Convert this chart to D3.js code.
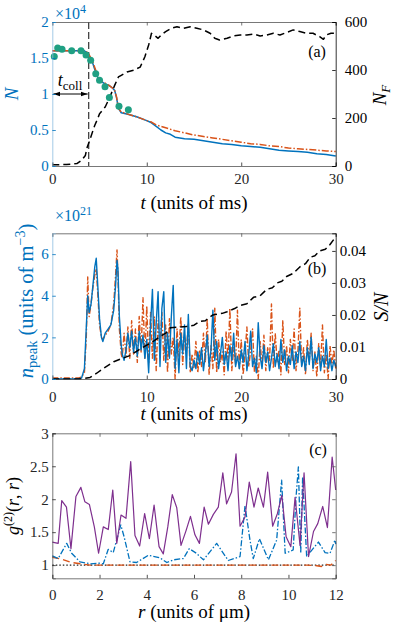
<!DOCTYPE html>
<html>
<head>
<meta charset="utf-8">
<script src="https://cdn.jsdelivr.net/npm/d3@7"></script>
<style>
body { margin: 0; background: #fff; }
</style>
</head>
<body>
<svg width="395" height="624"></svg>
<script>
// ---- panel (a): atom number N (x1e4) and N_F
var tN = [0, 3.4, 3.8, 4.0, 4.3, 4.6, 4.9, 5.2, 5.6, 6.0, 6.4, 6.6, 6.8, 7.0, 7.3, 8, 9, 10, 10.5, 11, 11.5, 12, 12.5, 13, 14, 15, 16, 17, 18, 19, 20, 21, 22, 23, 24, 25, 26, 27, 28, 29, 30];
var nBlue = [1.6, 1.6, 1.56, 1.5, 1.42, 1.3, 1.2, 1.17, 1.14, 1.12, 1.08, 1.05, 0.95, 0.8, 0.74, 0.72, 0.68, 0.63, 0.6, 0.55, 0.5, 0.46, 0.44, 0.4, 0.38, 0.37, 0.35, 0.33, 0.31, 0.3, 0.28, 0.27, 0.26, 0.24, 0.22, 0.21, 0.2, 0.19, 0.17, 0.16, 0.14];
var nOrange = [1.6, 1.6, 1.57, 1.52, 1.44, 1.33, 1.22, 1.18, 1.15, 1.12, 1.08, 1.05, 0.96, 0.8, 0.75, 0.72, 0.68, 0.63, 0.61, 0.57, 0.55, 0.53, 0.51, 0.49, 0.46, 0.43, 0.41, 0.39, 0.37, 0.35, 0.33, 0.31, 0.3, 0.28, 0.27, 0.25, 0.24, 0.23, 0.22, 0.21, 0.2];
var tDots = [0.21, 0.57, 1.03, 2.05, 3.04, 3.57, 4.06, 4.6, 5.0, 5.58, 6.04, 7.06, 8.05];
var nDots = [1.52, 1.64, 1.62, 1.6, 1.6, 1.54, 1.47, 1.28, 1.19, 1.1, 0.95, 0.83, 0.78];
var tF = [0, 1.5, 2.6, 3.1, 3.5, 3.7, 3.9, 4.2, 4.5, 4.8, 5.0, 5.6, 6.1, 6.6, 7.0, 7.3, 7.9, 8.6, 9.3, 9.8, 10.2, 10.5, 10.8, 11.2, 11.5, 12.0, 12.6, 13.2, 13.9, 14.6, 15.3, 16.0, 16.7, 17.2, 17.7, 18.5, 19.2, 19.9, 20.6, 21.3, 22.0, 22.7, 23.4, 24.1, 24.8, 25.5, 26.2, 26.9, 27.6, 28.3, 28.7, 29.0, 29.5, 30];
var nF = [5, 6, 10, 24, 44, 79, 100, 135, 170, 197, 218, 246, 288, 336, 371, 378, 392, 399, 412, 455, 504, 553, 545, 532, 545, 560, 574, 580, 574, 580, 574, 567, 553, 532, 525, 532, 542, 546, 546, 550, 542, 546, 553, 546, 556, 567, 560, 553, 553, 539, 528, 546, 553, 553];
var tColl = 3.85;

// ---- panel (b): peak density (x1e21) and S/N
var tPeakEarly = [0, 2.8, 3.1, 3.4, 3.6, 3.75, 3.9, 4.1, 4.3, 4.5, 4.65, 4.8, 5.0, 5.2, 5.35, 5.6, 5.9, 6.2, 6.5, 6.7, 6.85, 6.95, 7.1, 7.3];
var peakBlueEarly = [0, 0, 0.05, 0.5, 2.5, 4.0, 3.2, 3.6, 4.5, 5.4, 5.8, 4.6, 2.9, 2.0, 1.8, 2.2, 2.4, 2.6, 3.3, 4.5, 5.7, 5.3, 3.0, 1.6];
var peakOrangeEarly = [0.05, 0.05, 0.1, 0.3, 2.0, 4.9, 3.0, 3.6, 4.4, 5.0, 5.3, 4.2, 2.6, 2.0, 1.9, 2.1, 2.3, 2.6, 3.6, 5.0, 6.2, 5.0, 2.4, 1.2];
// from t = 7.4 to 30 every 0.2 ms
var peakBlueLate = [1.2, 0.9, 1.4, 2.2, 1.5, 2.3, 1.3, 2.0, 1.1, 2.3, 1.4, 2.1, 1.0, 1.9, 0.3, 2.6, 4.3, 0.9, 2.7, 4.2,
  0.6, 3.4, 4.2, 0.8, 2.2, 1.0, 3.0, 4.5, 0.5, 1.9, 0.3, 2.2, 1.2, 2.6, 0.5, 3.1, 0.6, 0.4, 0.9, 0.5,
  1.3, 0.7, 1.5, 0.4, 1.2, 2.1, 0.6, 1.4, 3.3, 0.9, 1.8, 0.5, 1.2, 2.0, 0.7, 1.3, 0.4, 1.6, 0.9, 2.2,
  0.6, 1.1, 0.5, 1.4, 0.8, 1.8, 0.4, 1.2, 2.3, 0.6, 1.0, 0.3, 2.7, 1.1, 0.5, 1.6, 0.8, 1.3, 0.4, 1.0,
  1.7, 0.6, 1.2, 0.5, 1.9, 0.8, 1.4, 0.4, 1.1, 0.7, 1.6, 0.5, 1.3, 0.8, 1.8, 0.6, 1.1, 0.4, 1.5, 0.7,
  2.0, 0.5, 1.2, 0.8, 1.5, 0.4, 1.1, 0.6, 1.9, 0.5, 1.0, 0.4, 0.9, 0.6];
var peakOrangeLate = [1.0, 2.2, 1.1, 2.5, 1.0, 2.8, 1.2, 2.4, 0.8, 3.0, 1.3, 3.9, 1.0, 3.5, 0.8, 3.2, 1.0, 3.0, 0.4, 2.8,
  1.5, 3.2, 0.9, 2.6, 0.3, 2.9, 1.2, 2.0, 0.0, 2.4, 1.1, 3.0, 0.7, 2.0, 1.4, 2.7, 0.3, 1.2, 0.5, 1.8,
  0.3, 1.4, 0.6, 2.2, 0.8, 2.9, 0.2, 1.6, 0.5, 3.4, 0.3, 1.9, 0.8, 1.3, 0.2, 2.3, 0.9, 3.4, 0.4, 1.5,
  0.7, 3.3, 0.5, 1.9, 0.2, 1.2, 2.5, 0.6, 1.4, 2.4, 0.3, 1.1, 0.0, 1.8, 0.6, 2.1, 0.4, 1.5, 0.9, 3.6,
  0.5, 2.2, 0.8, 1.4, 0.2, 2.8, 0.7, 1.6, 0.3, 1.9, 0.9, 2.4, 0.4, 1.3, 3.4, 0.6, 1.5, 0.2, 1.9, 0.8,
  2.2, 0.4, 1.3, 0.1, 1.7, 0.6, 2.6, 0.3, 1.2, 0.0, 1.6, 0.7, 1.4, 0.5];
var tSN = [0, 3, 4, 4.7, 5.5, 6.5, 7.2, 8.2, 9, 10, 10.8, 11.4, 12.1, 12.5, 13.5, 14.2, 15, 15.6, 16.2, 16.5, 17, 18, 18.5, 19.3, 19.9, 20.6, 21.3, 22, 22.7, 23.3, 23.8, 24.3, 24.8, 25.5, 26.2, 26.8, 27.3, 27.8, 28.3, 28.9, 29.4, 29.9];
var sN = [0, 0, 0.0005, 0.0018, 0.0035, 0.0054, 0.0062, 0.0073, 0.0088, 0.0106, 0.012, 0.0132, 0.0145, 0.016, 0.0162, 0.0164, 0.0168, 0.018, 0.0182, 0.019, 0.02, 0.0205, 0.021, 0.022, 0.023, 0.0235, 0.0255, 0.026, 0.028, 0.0285, 0.03, 0.0305, 0.032, 0.033, 0.035, 0.036, 0.038, 0.0385, 0.04, 0.0405, 0.042, 0.044];

// ---- panel (c): g2(r,r)
var rPurple = [0, 0.25, 0.4, 0.6, 0.79, 1.0, 1.21, 1.38, 1.57, 1.78, 1.96, 2.16, 2.37, 2.56, 2.73, 2.91, 3.12, 3.32, 3.5, 3.7, 3.91, 4.11, 4.31, 4.52, 4.7, 4.89, 5.08, 5.27, 5.45, 5.66, 5.85, 6.04, 6.23, 6.43, 6.61, 6.82, 7.03, 7.22, 7.38, 7.59, 7.78, 7.95, 8.16, 8.34, 8.54, 8.72, 8.94, 9.12, 9.33, 9.53, 9.72, 9.9, 10.1, 10.28, 10.49, 10.66, 10.85, 11.06, 11.24, 11.45, 11.65, 11.85, 12];
var gPurple = [1.35, 1.33, 1.98, 1.88, 1.25, 2.04, 2.18, 1.96, 1.92, 1.58, 1.18, 1.58, 1.54, 2.14, 1.33, 1.76, 1.71, 2.57, 1.45, 1.29, 1.78, 1.40, 1.91, 1.28, 1.17, 1.58, 2.07, 1.87, 1.30, 1.52, 1.74, 1.46, 1.33, 1.88, 1.62, 1.77, 1.88, 2.40, 1.93, 2.11, 2.69, 1.59, 1.73, 2.26, 1.88, 2.17, 1.88, 2.41, 1.59, 1.78, 2.06, 1.43, 1.28, 2.03, 1.30, 2.40, 1.13, 1.51, 1.63, 1.89, 1.57, 2.64, 2.14];
var rBlue = [0, 0.25, 0.61, 0.82, 1.17, 1.6, 2.02, 2.16, 2.37, 2.58, 2.9, 3.04, 3.29, 3.57, 4.07, 4.56, 4.85, 5.13, 5.55, 5.8, 6.1, 6.4, 6.96, 7.45, 7.95, 8.16, 8.37, 8.51, 8.77, 9.15, 9.5, 9.71, 9.86, 10.2, 10.32, 10.42, 10.52, 10.6, 10.77, 11.27, 11.55, 11.76, 11.97, 12];
var gBlue = [1.14, 1.10, 1.33, 1.18, 1.05, 1.02, 1.03, 1.02, 1.24, 1.19, 1.61, 1.43, 1.05, 1.04, 1.15, 1.11, 1.04, 1.08, 1.10, 1.25, 1.18, 1.08, 1.33, 1.07, 1.13, 1.9, 1.38, 1.10, 1.40, 1.08, 1.38, 2.29, 1.18, 1.23, 2.03, 2.49, 1.18, 2.34, 1.13, 1.35, 1.19, 1.18, 1.38, 1.32];
var rOrange = [0, 0.4, 0.8, 1.2, 1.6, 2.0, 3, 4, 5, 6, 7, 8, 9, 10, 10.8, 11.2, 11.4, 11.6, 11.8, 12];
var gOrange = [1.12, 1.09, 1.04, 1.02, 1.0, 1.0, 1.0, 1.0, 1.0, 1.0, 1.0, 1.0, 1.0, 1.0, 1.0, 0.99, 0.98, 1.01, 1.0, 1.07];

var blue = "#0072BD", orange = "#D95319", purple = "#7E2F8E", teal = "#1FA083", boxc = "#555";
var FONT = "Liberation Serif";

var svg = d3.select("svg");
var L = 52.3, R = 335.7;

function zip(xs, ys) { return xs.map(function(d, i) { return [d, ys[i]]; }); }

function drawLine(g, pts, x, y, color, dash, w) {
  g.append("path")
    .attr("d", d3.line().x(function(d) { return x(d[0]); }).y(function(d) { return y(d[1]); })(pts))
    .attr("fill", "none")
    .attr("stroke", color)
    .attr("stroke-width", w || 1.4)
    .attr("stroke-dasharray", dash || null)
    .attr("stroke-linejoin", "round");
}

function styleAxis(sel, color) {
  sel.select(".domain").attr("stroke", color).attr("stroke-width", 0.8);
  sel.selectAll(".tick line").attr("stroke", color).attr("stroke-width", 0.8);
  sel.selectAll(".tick text").attr("fill", color).attr("font-family", FONT).attr("font-size", 15);
}

function xAxes(top, bottom, x, ticks, pad) {
  var ax = svg.append("g").attr("transform", "translate(0," + bottom + ")")
    .call(d3.axisBottom(x).tickValues(ticks).tickSize(-3.5).tickPadding(pad).tickFormat(d3.format("")));
  styleAxis(ax, "#262626");
  ax.select(".domain").attr("stroke", boxc);
  var tp = svg.append("g").attr("transform", "translate(0," + top + ")")
    .call(d3.axisTop(x).tickValues(ticks).tickSize(-3.5).tickFormat(""));
  styleAxis(tp, boxc);
}

function label(x, y, size, rot, color) {
  return svg.append("text")
    .attr("transform", "translate(" + x + "," + y + ")" + (rot ? " rotate(-90)" : ""))
    .attr("text-anchor", "middle").attr("font-family", FONT).attr("font-size", size)
    .attr("fill", color || "#000");
}
// piece of a rich label, carrying its own font settings
function part(t, str, size, italic, dy) {
  return t.append("tspan").attr("font-family", FONT)
    .attr("font-size", size).attr("font-style", italic ? "italic" : "normal")
    .attr("dy", dy || null).text(str);
}

// ================= panel (a)
var xa = d3.scaleLinear().domain([0, 30]).range([L, R]);
var ya = d3.scaleLinear().domain([0, 2]).range([166, 22]);
var yaR = d3.scaleLinear().domain([0, 600]).range([166, 22]);
var ga = svg.append("g");

// t_coll marker
ga.append("line").attr("x1", xa(tColl)).attr("x2", xa(tColl)).attr("y1", ya(2)).attr("y2", ya(0))
  .attr("stroke", "#444").attr("stroke-width", 1.3).attr("stroke-dasharray", "7,3");

drawLine(ga, zip(tF, nF), xa, yaR, "#000", "7,4", 1.5);
drawLine(ga, zip(tN, nBlue), xa, ya, blue, null, 1.5);
drawLine(ga, zip(tN, nOrange), xa, ya, orange, "7,2,1.5,2", 1.5);
ga.selectAll("circle.dot").data(zip(tDots, nDots)).enter().append("circle")
  .attr("cx", function(d) { return xa(d[0]); })
  .attr("cy", function(d) { return ya(d[1]); })
  .attr("r", 3.5).attr("fill", teal);

// arrow
var defs = svg.append("defs");
defs.append("marker").attr("id", "ah").attr("viewBox", "0 0 10 10").attr("refX", 10).attr("refY", 5)
  .attr("markerWidth", 7).attr("markerHeight", 7).attr("orient", "auto-start-reverse")
  .append("path").attr("d", "M0,1.5L10,5L0,8.5z").attr("fill", "#000");
ga.append("line").attr("x1", xa(0) + 1).attr("x2", xa(tColl) - 1).attr("y1", ya(1)).attr("y2", ya(1))
  .attr("stroke", "#000").attr("stroke-width", 1)
  .attr("marker-start", "url(#ah)").attr("marker-end", "url(#ah)");
var tc = label(70, 86, 18, false);
part(tc, "t", 18, true);
part(tc, "coll", 13, false, 4);

xAxes(22, 166, xa, [0, 10, 20, 30], 7);
var aL = svg.append("g").attr("transform", "translate(" + L + ",0)")
  .call(d3.axisLeft(ya).tickValues([0, 0.5, 1, 1.5, 2]).tickSize(-3.5).tickPadding(3.5).tickFormat(d3.format("")));
styleAxis(aL, blue);
aL.select(".domain").attr("stroke", "#8dbde0");
var aR = svg.append("g").attr("transform", "translate(" + R + ",0)")
  .call(d3.axisRight(yaR).tickValues([0, 200, 400, 600]).tickSize(-3.5).tickPadding(9).tickFormat(d3.format("")));
styleAxis(aR, "#000");

var ex = svg.append("text").attr("x", 55).attr("y", 19).attr("fill", blue).attr("font-family", FONT).attr("font-size", 16);
part(ex, "\u00d710", 16, false);
part(ex, "4", 12, false, -6);
label(317, 57, 16, false).text("(a)");
label(17.5, 94, 19, true, blue).attr("font-style", "italic").text("N");
var nfl = label(386, 95, 19, true);
part(nfl, "N", 19, true);
part(nfl, "F", 13, true, 4);

function tLabel(y) {
  var t = label(194, y, 19, false);
  part(t, "t", 19, true);
  part(t, " (units of ms)", 19, false);
}
tLabel(208.5);

// ================= panel (b)
var yb = d3.scaleLinear().domain([0, 7]).range([379, 233.3]);
var ybR = d3.scaleLinear().domain([0, 0.0455]).range([379, 233.3]);
var gb = svg.append("g");
var tLate = d3.range(peakBlueLate.length).map(function(i) { return 7.4 + 0.2 * i; });
var tLateO = d3.range(peakOrangeLate.length).map(function(i) { return 7.4 + 0.2 * i; });
drawLine(gb, zip(tPeakEarly, peakOrangeEarly).concat(zip(tLateO, peakOrangeLate)), xa, yb, orange, "6,2,1.5,2", 1.4);
drawLine(gb, zip(tPeakEarly, peakBlueEarly).concat(zip(tLate, peakBlueLate)), xa, yb, blue, null, 1.4);
drawLine(gb, zip(tSN, sN), xa, ybR, "#000", "7,4", 1.5);

xAxes(233.3, 379, xa, [0, 10, 20, 30], 12);
var bL = svg.append("g").attr("transform", "translate(" + L + ",0)")
  .call(d3.axisLeft(yb).tickValues([0, 2, 4, 6]).tickSize(-3.5).tickPadding(3.5).tickFormat(d3.format("")));
styleAxis(bL, blue);
bL.select(".domain").attr("stroke", "#8dbde0");
var bR = svg.append("g").attr("transform", "translate(" + R + ",0)")
  .call(d3.axisRight(ybR).tickValues([0, 0.01, 0.02, 0.03, 0.04]).tickSize(-3.5).tickPadding(4).tickFormat(d3.format("")));
styleAxis(bR, "#000");

var ex2 = svg.append("text").attr("x", 55).attr("y", 221).attr("fill", blue).attr("font-family", FONT).attr("font-size", 16);
part(ex2, "\u00d710", 16, false);
part(ex2, "21", 12, false, -6);
label(317, 274, 16, false).text("(b)");
var npl = label(33, 301, 20.5, true, blue);
part(npl, "n", 20.5, true);
part(npl, "peak", 14.5, false, 4);
part(npl, "  (units of m", 20.5, false, -4);
part(npl, "\u22123", 14, false, -8);
part(npl, ")", 20.5, false, 8);
var snl = label(388, 307, 20, true);
part(snl, "S/N", 20, true);
tLabel(420);

// ================= panel (c)
var xc = d3.scaleLinear().domain([0, 12]).range([L, R]);
var yc = d3.scaleLinear().domain([0.8, 3]).range([578.3, 433.3]);
var gc = svg.append("g");
drawLine(gc, [[0, 1], [12, 1]], xc, yc, "#222", "1.5,2", 1.1);
drawLine(gc, zip(rOrange, gOrange), xc, yc, orange, "7,4", 1.4);
drawLine(gc, zip(rBlue, gBlue), xc, yc, blue, "6,2,1.5,2", 1.3);
drawLine(gc, zip(rPurple, gPurple), xc, yc, purple, null, 1.2);

xAxes(433.3, 578.3, xc, [0, 2, 4, 6, 8, 10, 12], 11);
var cL = svg.append("g").attr("transform", "translate(" + L + ",0)")
  .call(d3.axisLeft(yc).tickValues([1, 1.5, 2, 2.5, 3]).tickSize(-3.5).tickPadding(3.5).tickFormat(d3.format("")));
styleAxis(cL, "#262626");
cL.select(".domain").attr("stroke", boxc);
var cR = svg.append("g").attr("transform", "translate(" + R + ",0)")
  .call(d3.axisRight(yc).tickValues([1, 1.5, 2, 2.5, 3]).tickSize(-3.5).tickFormat(""));
styleAxis(cR, boxc);
label(318, 455, 16, false).text("(c)");
var gl = label(19, 506, 18, true);
part(gl, "g", 18, true);
part(gl, "(2)", 12, false, -7);
part(gl, "(", 18, false, 7);
part(gl, "r", 18, true);
part(gl, ", ", 18, false);
part(gl, "r", 18, true);
part(gl, ")", 18, false);
var rl = label(194, 618, 19, false);
part(rl, "r", 19, true);
part(rl, " (units of \u03bcm)", 19, false);
</script>
</body>
</html>
